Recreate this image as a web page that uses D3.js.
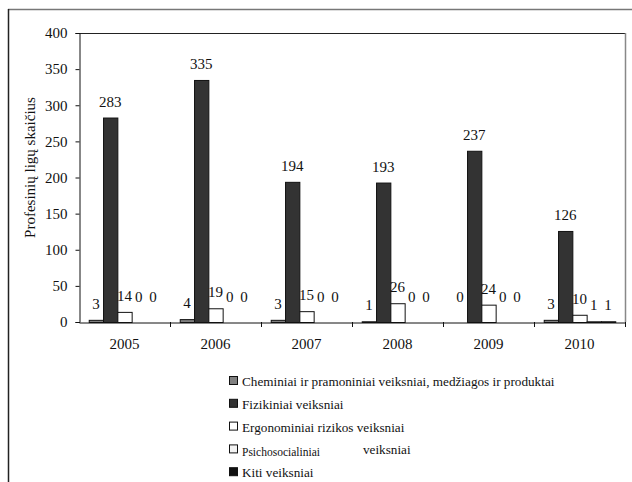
<!DOCTYPE html>
<html>
<head>
<meta charset="utf-8">
<script src="https://cdn.jsdelivr.net/npm/d3@7"></script>
<style>
  html, body { margin: 0; padding: 0; background: #fff; }
  svg { display: block; }
  svg text { font-family: "Liberation Serif", "Times New Roman", Times, serif !important; fill: #111; }
</style>
</head>
<body>
<svg id="chart" width="632" height="482"></svg>
<script>
// Occupational disease counts by factor group, 2005–2010
const years = ["2005", "2006", "2007", "2008", "2009", "2010"];
const seriesNames = [
  "Cheminiai  ir pramoniniai veiksniai, medžiagos ir produktai",
  "Fizikiniai veiksniai",
  "Ergonominiai rizikos veiksniai",
  "Psichosocialiniai",
  "Kiti veiksniai"
];
const chemical   = [3, 4, 3, 1, 0, 3];
const physical   = [283, 335, 194, 193, 237, 126];
const ergonomic  = [14, 19, 15, 26, 24, 10];
const psychosoc  = [0, 0, 0, 0, 0, 1];
const other      = [0, 0, 0, 0, 0, 1];
const yTicks = [0, 50, 100, 150, 200, 250, 300, 350, 400];

const seriesValues = [chemical, physical, ergonomic, psychosoc, other];
const fills = ["#808080", "#333333", "#ffffff", "#f3f3f3", "#111111"];
const SERIF = "'Liberation Serif', 'Times New Roman', Times, serif";

const svg = d3.select("#chart").style("font-family", SERIF);
const plot = { left: 79, right: 625, top: 33, bottom: 322 };

// outer frame (top and left edges)
svg.append("line").attr("x1", 8).attr("x2", 632).attr("y1", 9.5).attr("y2", 9.5)
  .attr("stroke", "#777").attr("stroke-width", 1.5);
svg.append("line").attr("x1", 8.5).attr("x2", 8.5).attr("y1", 9).attr("y2", 482)
  .attr("stroke", "#222").attr("stroke-width", 1.5);

const x = d3.scaleBand().domain(years).range([plot.left, plot.right]).padding(0);
const xs = d3.scaleBand().domain(d3.range(seriesValues.length))
  .range([0, x.bandwidth()]).paddingInner(0).paddingOuter(0.68);
const y = d3.scaleLinear().domain([0, 400]).range([plot.bottom, plot.top]);

// plot area border: top and right
svg.append("line").attr("x1", plot.left).attr("x2", plot.right)
  .attr("y1", plot.top + 0.5).attr("y2", plot.top + 0.5).attr("stroke", "#222");
svg.append("line").attr("x1", plot.right + 0.5).attr("x2", plot.right + 0.5)
  .attr("y1", plot.top).attr("y2", plot.bottom).attr("stroke", "#888").attr("stroke-width", 1.5);

// y axis
const yAxis = svg.append("g").attr("transform", `translate(${plot.left + 0.5},0)`)
  .call(d3.axisLeft(y).tickValues(yTicks).tickSize(4).tickPadding(8));
yAxis.attr("font-family", null);
yAxis.select(".domain").attr("stroke", "#111");
yAxis.selectAll(".tick line").attr("stroke", "#111");
yAxis.selectAll("text").attr("font-size", 15).style("font-family", SERIF).attr("fill", "#111");

// bars
const groups = svg.append("g").selectAll("g")
  .data(years).join("g")
  .attr("transform", d => `translate(${x(d)},0)`);

groups.selectAll("rect")
  .data((yr, i) => seriesValues.map((vals, s) => ({ s, v: vals[i] })))
  .join("rect")
  .attr("x", d => xs(d.s) + 0.5)
  .attr("width", xs.bandwidth())
  .attr("y", d => y(d.v) + 0.5)
  .attr("height", d => Math.max(0, plot.bottom - y(d.v)))
  .attr("fill", d => fills[d.s])
  .attr("stroke", "#111")
  .attr("stroke-width", 1)
  .attr("visibility", d => d.v === 0 ? "hidden" : "visible");

// value labels
groups.selectAll("text.val")
  .data((yr, i) => seriesValues.map((vals, s) => ({ s, v: vals[i] })))
  .join("text")
  .attr("class", "val")
  .attr("x", d => xs(d.s) + xs.bandwidth() / 2)
  .attr("y", d => y(d.v) - (d.v === 0 ? 20 : 11))
  .attr("text-anchor", "middle")
  .attr("font-size", 15)
  .style("font-family", SERIF)
  .text(d => d.v);

// x axis
const xAxis = svg.append("g").attr("transform", `translate(0,${plot.bottom + 0.5})`)
  .call(d3.axisBottom(x).tickSize(0).tickPadding(16));
xAxis.attr("font-family", null);
xAxis.select(".domain").attr("stroke", "#111");
xAxis.selectAll("text").attr("font-size", 15).style("font-family", SERIF).attr("fill", "#111");
// category boundary ticks
svg.append("g").selectAll("line")
  .data(years)
  .join("line")
  .attr("x1", d => x(d) + x.bandwidth() + 0.5)
  .attr("x2", d => x(d) + x.bandwidth() + 0.5)
  .attr("y1", plot.bottom).attr("y2", plot.bottom + 5)
  .attr("stroke", "#111");

// y axis title
svg.append("text")
  .attr("transform", `translate(32,${(plot.top + plot.bottom) / 2 - 10}) rotate(-90)`)
  .attr("text-anchor", "middle")
  .attr("dominant-baseline", "middle")
  .attr("font-size", 15)
  .style("font-family", SERIF)
  .text("Profesinių ligų skaičius");

// legend
const legend = svg.append("g").attr("transform", "translate(229,381)");
const rowH = 22.8;
seriesNames.forEach((name, i) => {
  const row = legend.append("g").attr("transform", `translate(0,${i * rowH})`);
  row.append("rect").attr("x", 0.5).attr("y", -4.5).attr("width", 8).attr("height", 8)
    .attr("fill", fills[i]).attr("stroke", "#111");
  const t = row.append("text").attr("x", 13).attr("y", 5).attr("font-size", 13.2)
    .style("font-family", SERIF);
  if (i === 3) {
    t.append("tspan").attr("font-size", 11.5).attr("dy", 2).text(name);
    t.append("tspan").attr("x", 134).attr("dy", -2).text("veiksniai");
  } else {
    t.text(name);
  }
});
</script>
</body>
</html>
